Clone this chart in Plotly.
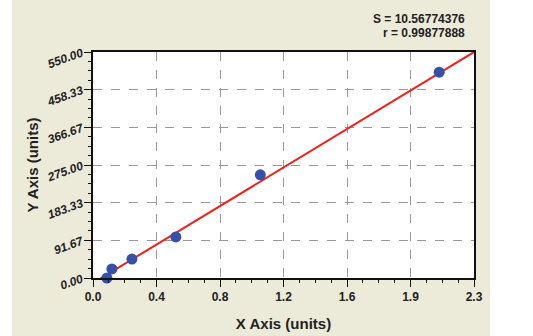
import plotly.graph_objects as go

# Data
pts_x = [0.084, 0.114, 0.235, 0.50, 1.01, 2.09]
pts_y = [0.0, 22.0, 46.0, 100.0, 251.0, 501.0]
fit_x = [0.03, 2.3]
fit_y = [-5.0, 550.0]
x_tickvals = [0, 2.3/6, 2*2.3/6, 3*2.3/6, 4*2.3/6, 5*2.3/6, 2.3]
x_ticktext = ["0.0", "0.4", "0.8", "1.2", "1.6", "1.9", "2.3"]
y_tickvals = [0, 550/6, 2*550/6, 3*550/6, 4*550/6, 5*550/6, 550]
y_ticktext = ["0.00", "91.67", "183.33", "275.00", "366.67", "458.33", "550.00"]
stats = ["S = 10.56774376", "r = 0.99877888"]

W, H = 533, 336
L, R, T, B = 93, 59, 52, 58
pw, ph = W - L - R, H - T - B

def px(x):
    return (x - L) / pw

def py(y):
    return (H - B - y) / ph

beige = "#ECEAD9"
font = "Arial, Liberation Sans, sans-serif"

fig = go.Figure()
fig.add_trace(go.Scatter(x=fit_x, y=fit_y, mode="lines",
                         line=dict(color="#F0201A", width=2), showlegend=False))
fig.add_trace(go.Scatter(x=pts_x, y=pts_y, mode="markers",
                         marker=dict(color="#3550A8", size=11), showlegend=False,
                         cliponaxis=False))
# empty trace to host the minor-tick axes
fig.add_trace(go.Scatter(x=[], y=[], xaxis="x2", yaxis="y2", showlegend=False, hoverinfo="skip"))

axis_common = dict(showline=True, linecolor="#111", linewidth=1.5, mirror=True,
                   ticks="outside", ticklen=7, tickcolor="#111", tickwidth=1,
                   showgrid=True, gridcolor="#999", griddash="dash", gridwidth=1,
                   zeroline=False, tickmode="array", automargin=False)

fig.update_layout(
    xaxis=dict(range=[0, 2.3], tickvals=x_tickvals, ticktext=x_ticktext,
               title=dict(text="<b>X Axis (units)</b>", font=dict(family=font, size=15, color="#222"), standoff=15),
               tickfont=dict(family=font, size=12, color="#222", weight="bold"),
               **axis_common),
    yaxis=dict(range=[0, 550], tickvals=y_tickvals, ticktext=y_ticktext, tickangle=-20,
               title=dict(text="<b>Y Axis (units)</b>", font=dict(family=font, size=15, color="#222"), standoff=2),
               tickfont=dict(family=font, size=12, color="#222", weight="bold", style="italic"),
               **axis_common),
    xaxis2=dict(overlaying="x", anchor="y", side="bottom", range=[0, 2.3], tickmode="linear",
                tick0=0, dtick=2.3/24, ticks="outside", ticklen=4, tickcolor="#111", automargin=False,
                showticklabels=False, showgrid=False, zeroline=False, showline=False),
    yaxis2=dict(overlaying="y", anchor="x", side="left", range=[0, 550], tickmode="linear",
                tick0=0, dtick=550/24, ticks="outside", ticklen=4, tickcolor="#111", automargin=False,
                showticklabels=False, showgrid=False, zeroline=False, showline=False),
)

fig.add_shape(type="rect", xref="paper", yref="paper", x0=px(0), x1=px(12), y0=py(H), y1=py(0),
              fillcolor="white", line=dict(width=0), layer="below")
fig.add_shape(type="rect", xref="paper", yref="paper", x0=px(490), x1=px(W), y0=py(H), y1=py(0),
              fillcolor="white", line=dict(width=0), layer="below")

for i, s in enumerate(stats):
    fig.add_annotation(xref="paper", yref="paper", x=px(467), y=py(19 + 14 * i),
                       text="<b>" + s + "</b>", showarrow=False, xanchor="right", yanchor="middle",
                       font=dict(family=font, size=12, color="#222"))

fig.update_layout(width=W, height=H, margin=dict(l=L, r=R, t=T, b=B, pad=0),
                  paper_bgcolor=beige, plot_bgcolor="white")
fig.write_html("out.html")
